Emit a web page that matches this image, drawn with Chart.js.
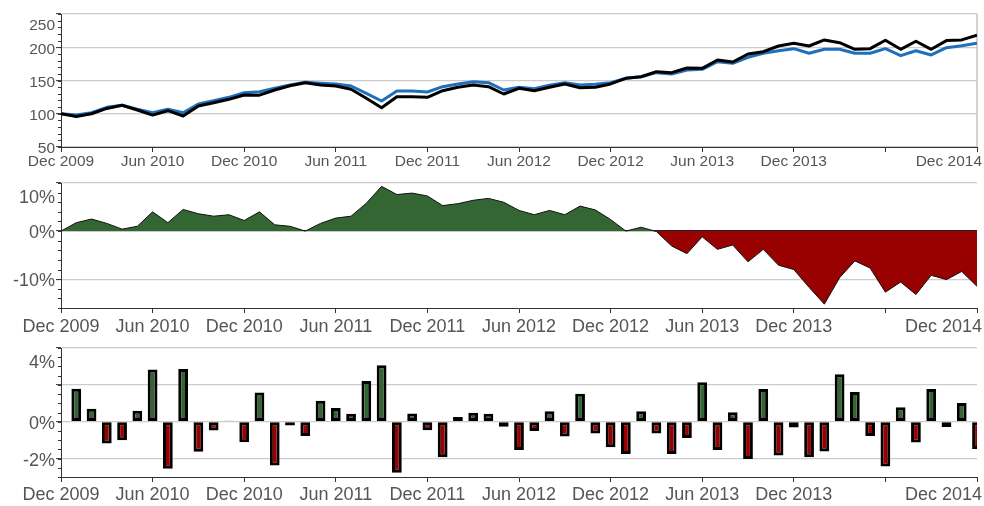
<!DOCTYPE html>
<html>
<head>
<meta charset="utf-8">
<script src="https://cdn.jsdelivr.net/npm/chart.js@4/dist/chart.umd.min.js"></script>
<style>
  html, body { margin: 0; padding: 0; background: #fff; }
  #wrap { position: relative; width: 984px; height: 506px; }
  canvas { position: absolute; left: 0; }
</style>
</head>
<body>
<div id="wrap">
  <canvas id="growth" width="984" height="172" style="top:0"></canvas>
  <canvas id="relative" width="984" height="168" style="top:172px"></canvas>
  <canvas id="monthly" width="984" height="166" style="top:340px"></canvas>
</div>
<script>
// Month-end observation dates
const months = [
  'Dec 2009',
  'Jan 2010','Feb 2010','Mar 2010','Apr 2010','May 2010','Jun 2010','Jul 2010','Aug 2010','Sep 2010','Oct 2010','Nov 2010','Dec 2010',
  'Jan 2011','Feb 2011','Mar 2011','Apr 2011','May 2011','Jun 2011','Jul 2011','Aug 2011','Sep 2011','Oct 2011','Nov 2011','Dec 2011',
  'Jan 2012','Feb 2012','Mar 2012','Apr 2012','May 2012','Jun 2012','Jul 2012','Aug 2012','Sep 2012','Oct 2012','Nov 2012','Dec 2012',
  'Jan 2013','Feb 2013','Mar 2013','Apr 2013','May 2013','Jun 2013','Jul 2013','Aug 2013','Sep 2013','Oct 2013','Nov 2013','Dec 2013',
  'Jan 2014','Feb 2014','Mar 2014','Apr 2014','May 2014','Jun 2014','Jul 2014','Aug 2014','Sep 2014','Oct 2014','Nov 2014','Dec 2014'
];

// Growth of 100 (black = benchmark, blue = portfolio)
const benchmark = [100, 96, 100, 108, 112.7, 105.7, 98, 104.6, 96.6, 111.7, 116.6, 121.7, 128.2,
  128, 135.7, 142, 146.7, 143.3, 141.7, 136.8, 123.2, 109.1, 125.7, 125.7, 124.7,
  134.7, 139.8, 143.2, 140.7, 129.7, 138.3, 134.7, 139.8, 144.8, 139.2, 139.8, 144.8,
  153.3, 155.7, 163.3, 161.8, 168.8, 168.3, 180.8, 177.8, 189.9, 193.3, 201.9, 206,
  201.9, 211, 206.9, 196.9, 197.9, 210.5, 196.9, 209, 196.9, 210, 211, 218];
const portfolio = [100, 98, 101.6, 109.7, 112.7, 106.7, 101.6, 106.7, 101.6, 114.7, 119.7, 124.7, 131.7,
  133.2, 138.3, 143.3, 147.3, 145.8, 144.8, 141.7, 130.7, 119.2, 134.2, 134.2, 132.7,
  140.7, 144.8, 148.2, 146.7, 135.7, 139.8, 137.7, 142.8, 146.7, 143.3, 144.3, 146.7,
  153.3, 155.7, 161.8, 159.8, 165.8, 166.8, 178.3, 175.9, 184.9, 190.9, 194.8, 197.9,
  190.9, 196.9, 196.9, 190.9, 190.9, 197.9, 187.4, 194.8, 188.4, 199.4, 202.4, 206];

// Cumulative relative performance, %
const relativePerf = [0, 1.75, 2.5, 1.6, 0.4, 1.0, 4.0, 1.75, 4.5, 3.6, 3.1, 3.4, 2.2,
  4.0, 1.3, 1.0, 0, 1.6, 2.7, 3.1, 5.8, 9.3, 7.6, 7.9, 7.3,
  5.3, 5.7, 6.4, 6.8, 6.0, 4.3, 3.4, 4.3, 3.4, 5.2, 4.4, 2.4,
  0, 0.8, -0.1, -3.1, -4.7, -1.2, -3.8, -2.9, -6.4, -3.8, -7.1, -8.0,
  -11.7, -15.2, -9.7, -6.2, -7.7, -12.7, -10.6, -13.2, -9.2, -10.1, -8.4, -11.5];

// Monthly excess return, %
const monthlyDiff = [null, 1.79, 0.7, -1.18, -1.0, 0.6, 2.84, -2.55, 2.86, -1.63, -0.48, 0.05, -1.12,
  1.59, -2.38, -0.2, -0.77, 1.14, 0.75, 0.43, 2.21, 3.07, -2.77, 0.45, -0.46,
  -1.93, 0.25, 0.48, 0.43, -0.27, -1.54, -0.5, 0.57, -0.8, 1.52, -0.64, -1.39,
  -1.75, 0.57, -0.64, -1.75, -0.89, 2.14, -1.54, 0.52, -2.02, 1.77, -1.84, -0.32,
  -1.93, -1.61, 2.57, 1.61, -0.77, -2.43, 0.79, -1.13, 1.77, -0.29, 1.02, -1.48];

// Axis ticks
const xTickMonths = [0, 6, 12, 18, 24, 30, 36, 42, 48, 54, 60];
const growthTicks = [50, 100, 150, 200, 250];
const relativeTicks = [-10, 0, 10];
const monthlyTicks = [-2, 0, 2, 4];
const monthlyLabelled = [-2, 0, 4];

const GREEN = '#336633', RED = '#990000', BLUE = '#1f6fbd', INK = '#333333', GRID = '#cccccc', TEXT = '#555555';
const FONT_FAMILY = '"Liberation Sans", Arial, sans-serif';

// Draws tick labels, minor ticks and optional frame
function axisText(cfg) {
  return {
    id: 'axisText',
    beforeDatasetsDraw(chart) {
      if (!cfg.frame) return;
      const ctx = chart.ctx, a = chart.chartArea;
      ctx.save();
      ctx.strokeStyle = '#c4c4c4';
      ctx.lineWidth = 1.5;
      const xr = Math.round(a.right);
      ctx.beginPath(); ctx.moveTo(xr, a.top); ctx.lineTo(xr, a.bottom); ctx.stroke();
      ctx.restore();
    },
    afterDraw(chart) {
      const ctx = chart.ctx, xs = chart.scales.x, ys = chart.scales.y, a = chart.chartArea;
      ctx.save();
      // minor ticks on the value axis
      ctx.strokeStyle = INK; ctx.lineWidth = 1;
      const n = Math.round((ys.max - ys.min) / cfg.minorStep);
      for (let k = 0; k <= n; k++) {
        const y = Math.round(ys.getPixelForValue(ys.min + k * cfg.minorStep)) + 0.5;
        ctx.beginPath(); ctx.moveTo(a.left - 3, y); ctx.lineTo(a.left, y); ctx.stroke();
      }
      ctx.font = cfg.font;
      ctx.fillStyle = TEXT;
      ctx.textBaseline = 'middle';
      // value labels
      ctx.textAlign = 'right';
      cfg.yLabels.forEach(v => {
        let y = ys.getPixelForValue(v) + 2;
        if (v === ys.max) y += cfg.topNudge;
        ctx.fillText(v + cfg.suffix, a.left - 6, y);
      });
      // date labels; the last one is kept inside the canvas, others that collide are dropped
      ctx.textAlign = 'left';
      const W = chart.width;
      const items = xTickMonths.map(i => {
        const text = months[i];
        const w = ctx.measureText(text).width;
        let left = xs.getPixelForValue(i) - w / 2;
        if (left + w > W - 2) left = W - 2 - w;
        if (left < 0) left = 0;
        return { text, left, w };
      });
      const last = items[items.length - 1];
      let prevRight = -Infinity;
      items.forEach((it, k) => {
        if (k < items.length - 1 && (it.left < prevRight + 4 || it.left + it.w > last.left - 4)) return;
        ctx.fillText(it.text, it.left, cfg.xLabelY);
        prevRight = it.left + it.w;
      });
      ctx.restore();
    }
  };
}

function scales(yMin, yMax, yTicks, gridColor, xAxisHeight) {
  return {
    x: {
      type: 'linear', min: 0, max: 60, offset: false,
      afterBuildTicks: s => { s.ticks = xTickMonths.map(v => ({ value: v })); },
      afterFit: s => { s.height = xAxisHeight; s.paddingLeft = 0; s.paddingRight = 0; },
      ticks: { display: false },
      grid: { offset: false, drawOnChartArea: false, drawTicks: true, tickLength: 5, tickColor: INK, tickWidth: 1 },
      border: { display: true, color: INK, width: 1 }
    },
    y: {
      type: 'linear', min: yMin, max: yMax,
      afterBuildTicks: s => { s.ticks = yTicks.map(v => ({ value: v })); },
      afterFit: s => { s.width = 61; },
      ticks: { display: false },
      grid: { color: gridColor, lineWidth: 1.2, drawTicks: true, tickLength: 5, tickColor: INK, tickWidth: 1 },
      border: { display: true, color: INK, width: 1 }
    }
  };
}

const common = {
  responsive: false,
  animation: false,
  events: [],
  devicePixelRatio: 1,
};
const noPlugins = { legend: { display: false }, tooltip: { enabled: false } };
const pts = arr => arr.map((v, i) => ({ x: i, y: v })).filter(p => p.y !== null);

// Growth chart
new Chart(document.getElementById('growth'), {
  type: 'line',
  data: {
    datasets: [
      { data: pts(benchmark), borderColor: '#000', borderWidth: 3, pointRadius: 0, tension: 0, borderJoinStyle: 'round', fill: false },
      { data: pts(portfolio), borderColor: BLUE, borderWidth: 3, pointRadius: 0, tension: 0, borderJoinStyle: 'round', fill: false }
    ]
  },
  options: Object.assign({}, common, {
    layout: { padding: { top: 14, right: 7, left: 0, bottom: 0 } },
    scales: scales(50, 250, growthTicks, GRID, 25),
    plugins: noPlugins
  }),
  plugins: [axisText({ font: '15.5px ' + FONT_FAMILY, yLabels: growthTicks, suffix: '', topNudge: 10, minorStep: 10, xLabelY: 162, frame: true })]
});

// Relative performance area
new Chart(document.getElementById('relative'), {
  type: 'line',
  data: {
    datasets: [{
      data: pts(relativePerf), borderColor: '#111', borderWidth: 1, pointRadius: 0, tension: 0,
      fill: { target: 'origin', above: GREEN, below: RED }
    }]
  },
  options: Object.assign({}, common, {
    layout: { padding: { top: 11, right: 7, left: 0, bottom: 0 } },
    scales: scales(-16, 10, relativeTicks, ctx => (ctx.tick && ctx.tick.value === 0) ? '#222' : GRID, 32),
    plugins: noPlugins
  }),
  plugins: [axisText({ font: '18px ' + FONT_FAMILY, yLabels: relativeTicks, suffix: '%', topNudge: 13, minorStep: 2, xLabelY: 155, frame: false })]
});

// Monthly excess return bars
new Chart(document.getElementById('monthly'), {
  type: 'bar',
  data: {
    datasets: [{
      data: pts(monthlyDiff),
      backgroundColor: ctx => (ctx.raw && ctx.raw.y < 0) ? RED : GREEN,
      borderColor: '#000', borderWidth: 3, borderSkipped: false,
      barPercentage: 0.8, categoryPercentage: 0.8
    }]
  },
  options: Object.assign({}, common, {
    layout: { padding: { top: 8, right: 7, left: 0, bottom: 0 } },
    scales: scales(-3, 4, monthlyTicks, GRID, 29),
    plugins: noPlugins
  }),
  plugins: [axisText({ font: '18px ' + FONT_FAMILY, yLabels: monthlyLabelled, suffix: '%', topNudge: 13, minorStep: 0.5, xLabelY: 155, frame: false })]
});
</script>
</body>
</html>
